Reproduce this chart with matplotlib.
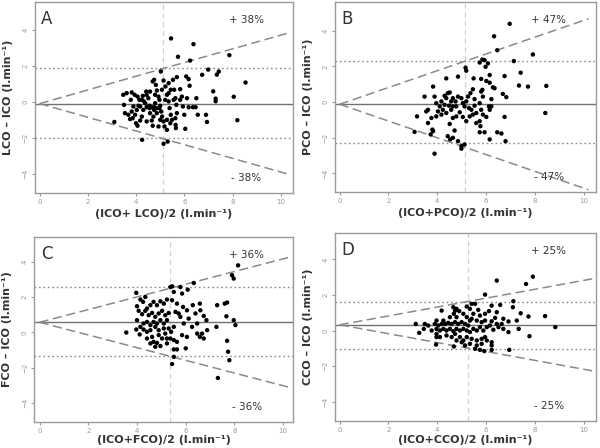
import numpy as np
import matplotlib
matplotlib.use("Agg")
import matplotlib.pyplot as plt

# Bland-Altman data: (mean, difference)
pts_a = [
    (5.45, 3.54), (6.38, 3.22), (5.74, 2.52), (6.24, 2.31), (7.87, 2.61), (5.03, 1.70),
    (6.99, 1.81), (7.43, 1.70), (7.35, 1.53), (6.74, 1.52), (8.54, 1.09), (7.20, 0.60),
    (7.30, 0.20), (7.30, 0.05), (8.05, 0.30), (8.20, -1.00), (6.90, -0.70), (6.94, -1.10),
    (6.04, -1.48), (4.25, -2.09), (5.14, -2.31), (5.31, -2.19), (3.10, -1.10),
    (3.47, 0.41), (3.61, 0.50), (3.82, 0.54), (3.50, -0.15), (3.54, -0.61), (3.68, -0.70),
    (3.75, -0.94), (3.86, -0.89), (3.96, -0.70), (4.00, -1.17), (4.06, -1.31), (3.94, 0.41),
    (4.06, 0.31), (4.14, 0.13), (4.17, -0.24), (4.24, -0.80), (4.30, -0.43), (4.38, -0.06),
    (4.44, 0.41), (4.51, 0.22), (4.56, -0.20), (4.58, -0.61), (4.65, -1.02), (4.69, -1.31),
    (4.75, -0.43), (4.79, -0.06), (4.69, 1.15), (4.75, 1.24), (4.82, 0.96), (4.86, 0.65),
    (4.93, 0.31), (4.97, 0.13), (5.00, -0.20), (5.04, -0.52), (5.08, -0.80), (5.14, -1.07),
    (5.18, -1.35), (5.22, 0.87), (5.28, 0.41), (5.35, 0.04), (5.39, -0.33), (5.44, -0.70),
    (5.49, -0.98), (5.53, 1.24), (5.58, 0.69), (5.63, 0.22), (5.67, -0.15), (5.69, -0.61),
    (5.64, -1.26), (5.65, -1.44), (5.83, 0.72), (5.90, 0.31), (5.94, -0.24), (6.00, -0.70),
    (6.08, 1.43), (6.18, 1.28), (6.22, 0.91), (6.11, 0.22), (6.18, -0.28), (6.36, -0.28),
    (6.47, -0.28), (6.50, 0.22), (6.56, -0.70), (4.44, -0.28), (4.56, -0.33), (4.65, -0.28),
    (4.75, -0.28), (4.86, -0.33), (4.97, -0.33), (4.24, 0.13), (4.33, 0.04), (4.42, 0.59),
    (4.28, 0.35), (4.10, -0.20), (3.89, -0.24), (3.78, 0.13), (4.17, -1.02), (4.44, -1.07),
    (4.86, -0.61), (5.00, -0.98), (5.28, -0.98), (5.42, -1.17), (5.63, -0.89), (5.35, 0.50),
    (5.44, 0.69), (5.14, 1.20), (5.35, 1.06), (5.69, 1.39), (5.56, 0.13), (5.83, 0.13),
    (4.58, 0.59), (4.79, 0.41), (5.07, 0.69), (5.21, 0.13), (4.03, -0.43), (3.82, -0.52),
    (4.72, -0.80), (4.93, -1.35), (5.28, -1.54),
]
pts_b = [
    (6.97, 4.39), (6.33, 3.69), (6.46, 2.91), (7.92, 2.67), (7.14, 2.30), (7.42, 1.65),
    (7.72, 0.87), (7.35, 0.93), (8.47, 0.91), (8.43, -0.61), (5.85, 2.39), (5.94, 2.35),
    (5.74, 2.22), (5.98, 1.98), (6.08, 2.17), (5.16, 1.93), (5.19, 1.76), (6.15, 1.52),
    (6.76, 1.46), (5.80, 1.30), (6.01, 1.19), (4.37, 1.33), (4.85, 1.43), (5.49, 1.33),
    (6.28, 0.83), (5.46, 0.72), (5.85, 0.69), (6.15, 1.09), (3.83, 0.87), (3.89, 0.31),
    (3.48, 0.31), (6.69, 0.46), (6.83, 0.28), (6.22, 0.17), (5.87, 0.31), (5.53, 0.17),
    (5.36, 0.50), (5.19, 0.04), (4.64, -0.24), (4.37, 0.22), (4.43, 0.50), (4.51, 0.54),
    (4.30, 0.35), (4.64, 0.22), (4.75, 0.04), (4.85, 0.31), (4.99, 0.22), (5.05, -0.06),
    (5.12, -0.24), (5.30, -0.33), (5.40, -0.43), (5.46, -0.70), (5.60, -0.61), (5.74, -0.06),
    (5.80, -0.43), (5.87, -0.70), (6.01, -0.83), (5.74, -1.07), (5.77, -1.35), (5.74, -1.69),
    (5.94, -1.69), (6.22, -0.24), (6.76, -0.83), (6.80, -2.19), (6.46, -1.69), (6.63, -1.76),
    (6.15, -2.09), (3.96, -0.06), (4.10, -0.24), (4.03, -0.52), (4.17, -0.70), (4.23, -0.43),
    (3.96, -0.80), (3.76, -0.89), (3.62, -0.43), (3.55, -0.52), (3.83, -1.63), (3.80, -1.54),
    (3.73, -1.81), (3.62, -1.17), (3.17, -0.80), (3.07, -1.67), (3.89, -2.89), (4.43, -1.91),
    (4.53, -2.09), (4.64, -2.00), (4.85, -2.19), (4.99, -2.46), (4.99, -2.61), (5.12, -2.37),
    (4.71, -1.59), (4.51, -1.22), (4.64, -0.89), (4.78, -0.80), (4.92, -0.57), (5.05, -0.83),
    (5.19, -1.07), (4.37, -0.61), (4.57, -0.43), (4.78, -0.24), (4.48, -0.20), (4.30, -0.15),
    (4.17, 0.04), (4.57, 0.04), (5.26, 0.31), (5.53, -0.20), (5.33, -0.80), (5.60, -1.17),
    (5.80, 0.59), (6.12, -0.24), (6.15, -0.43), (6.35, 0.78),
]
pts_c = [
    (8.15, 3.81), (7.90, 3.25), (7.97, 3.06), (6.33, 2.81), (5.78, 2.58), (5.37, 2.58),
    (5.44, 2.62), (6.08, 2.43), (3.97, 2.25), (5.85, 2.21), (4.34, 2.02), (7.70, 1.70),
    (7.60, 1.64), (7.29, 1.55), (6.58, 1.64), (6.29, 1.55), (6.60, 1.26), (6.40, 1.08),
    (6.74, 0.94), (7.67, 0.92), (6.85, 0.70), (7.97, 0.70), (8.04, 0.42), (7.26, 0.32),
    (6.88, 0.13), (6.67, -0.06), (7.70, -0.47), (7.74, -1.09), (7.79, -1.57), (7.32, -2.58),
    (5.44, -1.79), (5.51, -1.38), (5.64, -0.96), (5.51, -0.96), (6.00, -0.90), (5.23, -0.62),
    (5.37, -0.34), (5.64, -0.53), (5.85, -0.15), (6.05, -0.25), (6.26, 0.32), (6.47, 0.51),
    (5.92, 0.51), (5.78, 0.89), (5.58, 1.17), (5.64, 1.64), (5.44, 1.83), (5.23, 1.87),
    (5.10, 1.64), (4.96, 1.77), (4.82, 1.55), (4.68, 1.74), (4.55, 1.55), (4.41, 1.36),
    (4.14, 1.87), (4.25, 1.74), (4.00, 1.49), (4.07, 1.23), (4.21, 1.04), (4.34, 1.23),
    (4.48, 0.98), (4.62, 1.11), (4.75, 0.89), (4.89, 1.08), (5.03, 1.23), (5.16, 0.98),
    (5.30, 1.11), (5.23, 0.70), (5.10, 0.51), (4.96, 0.70), (4.82, 0.51), (4.68, 0.60),
    (4.55, 0.42), (4.41, 0.60), (4.27, 0.51), (4.14, 0.32), (4.00, 0.70), (3.97, 0.17),
    (3.56, 0.00), (4.11, -0.11), (4.27, 0.17), (4.41, 0.04), (4.55, 0.13), (4.62, -0.25),
    (4.68, -0.53), (4.82, -0.59), (4.75, -0.81), (4.96, -0.77), (5.03, -0.34), (5.16, -0.06),
    (5.30, 0.23), (5.40, 0.04), (5.51, 0.32), (4.89, 0.13), (5.10, 0.23), (4.75, 0.32),
    (4.89, -0.15), (5.23, -0.34), (5.51, -0.43), (4.41, -0.34), (4.55, -0.62), (5.71, 1.08),
    (5.89, 1.45), (6.05, 1.26), (6.12, 0.79), (6.47, -0.06), (6.58, -0.25), (6.74, -0.34),
    (5.51, 2.30),
]
pts_d = [
    (7.92, 3.03), (7.64, 2.62), (6.44, 2.81), (5.96, 2.02), (7.12, 1.65), (7.42, 0.97),
    (7.74, 0.79), (8.42, 0.81), (8.84, 0.19), (7.78, -0.32), (6.95, -1.09), (6.23, -1.09),
    (5.93, -1.16), (5.75, -1.09), (5.55, -1.03), (4.68, -0.90), (3.95, -0.79), (7.10, 1.31),
    (6.58, 1.44), (6.23, 1.40), (6.12, 1.09), (5.96, 0.94), (6.44, 1.03), (6.71, 0.66),
    (6.92, 0.51), (7.26, 0.56), (7.34, 0.09), (6.92, -0.09), (6.64, 0.37), (6.44, 0.37),
    (6.23, 0.52), (5.96, 0.56), (5.82, 0.47), (5.62, 0.56), (5.41, 0.66), (5.21, 0.75),
    (5.07, 0.94), (4.90, 1.09), (4.73, 1.12), (4.68, 0.94), (4.79, 0.75), (4.18, 1.12),
    (5.21, 1.35), (5.34, 1.22), (5.41, 1.50), (5.55, 1.50), (5.68, 1.16), (5.48, 0.94),
    (5.34, 0.56), (5.27, 0.28), (5.14, 0.37), (5.00, 0.47), (4.86, 0.37), (4.73, 0.47),
    (4.59, 0.37), (4.45, 0.43), (4.32, 0.37), (4.18, 0.37), (4.04, 0.28), (3.97, 0.56),
    (3.90, 0.37), (3.97, 0.09), (3.97, -0.19), (3.97, -0.37), (4.11, 0.00), (4.25, 0.09),
    (4.38, 0.00), (4.52, 0.09), (4.66, -0.04), (4.79, 0.09), (4.93, 0.00), (5.07, 0.09),
    (5.21, 0.00), (5.34, -0.09), (5.48, 0.09), (5.62, 0.00), (5.75, 0.19), (5.89, 0.00),
    (6.03, 0.19), (6.16, 0.28), (6.30, 0.04), (6.51, 0.19), (6.71, 0.09), (3.12, 0.37),
    (3.26, -0.13), (3.49, 0.37), (3.45, 0.09), (3.63, 0.28), (3.77, 0.00), (4.38, -0.28),
    (4.59, -0.37), (4.73, -0.19), (4.93, -0.37), (5.00, -0.66), (5.07, -0.56), (5.21, -0.37),
    (5.41, -0.47), (5.62, -0.56), (5.82, -0.47), (5.96, -0.37), (6.03, -0.56), (6.23, -0.66),
    (6.23, -0.84), (5.82, -0.75), (5.62, -0.84), (5.34, -0.75), (5.14, -0.84), (4.79, -0.56),
    (4.11, -0.37), (4.25, 0.56), (4.52, 0.75), (4.66, 1.31), (4.79, 1.22), (5.75, 0.84),
    (6.37, 0.71),
]

letters = ["A", "B", "C", "D"]
xlabels = ["(ICO+ LCO)/2 (l.min\u207b\u00b9)", "(ICO+PCO)/2 (l.min\u207b\u00b9)",
           "(ICO+FCO)/2 (l.min\u207b\u00b9)", "(ICO+CCO)/2 (l.min\u207b\u00b9)"]
ylabels = ["LCO \u2013 ICO (l.min\u207b\u00b9)", "PCO \u2013 ICO (l.min\u207b\u00b9)",
           "FCO \u2013 ICO (l.min\u207b\u00b9)", "CCO \u2013 ICO (l.min\u207b\u00b9)"]
bias = [-0.08, -0.12, 0.58, 0.32]
loa_up = [1.90, 2.30, 2.57, 1.60]
loa_lo = [-1.98, -2.28, -1.34, -1.03]
pct = [38, 47, 36, 25]
mean_x = [5.13, 5.15, 5.34, 5.27]
cone_end = [10.4, 10.2, 10.2, 10.4]
points = [pts_a, pts_b, pts_c, pts_d]

# axes rectangles in figure fractions
rects = [
    [0.058, 0.569, 0.430, 0.426],
    [0.558, 0.571, 0.435, 0.424],
    [0.057, 0.058, 0.432, 0.413],
    [0.558, 0.060, 0.435, 0.420],
]
ylims = [(-5.05, 5.55), (-5.05, 5.6), (-5.08, 5.42), (-5.1, 5.49)]
xlims = [(-0.2, 10.5), (-0.2, 10.5), (-0.22, 10.42), (-0.2, 10.5)]
xlab_y = [-0.084, -0.084, -0.072, -0.076]  # top of x label, axes coords

fig = plt.figure(figsize=(6, 4.48), dpi=100)
fig.patch.set_facecolor("white")

for i in range(4):
    ax = fig.add_axes(rects[i])
    p = np.array(points[i])
    ax.axvline(mean_x[i], color="#d0d0d0", lw=0.9, ls=(0, (4, 3)), zorder=1)
    ax.axhline(bias[i], color="#707070", lw=1.0, zorder=2)
    ax.axhline(loa_up[i], color="#8a8a8a", lw=1.0, ls=(0, (1.2, 2)), zorder=2)
    ax.axhline(loa_lo[i], color="#8a8a8a", lw=1.0, ls=(0, (1.2, 2)), zorder=2)
    xs = np.array([0.0, cone_end[i]])
    k = pct[i] / 100.0
    ax.plot(xs, bias[i] + k * xs, color="#8a8a8a", lw=1.1, ls=(0, (6, 3)), zorder=2)
    ax.plot(xs, bias[i] - k * xs, color="#8a8a8a", lw=1.1, ls=(0, (6, 3)), zorder=2)
    ax.scatter(p[:, 0], p[:, 1], s=10, color="black", edgecolors="none", zorder=3)

    ax.set_xlim(*xlims[i])
    ax.set_ylim(*ylims[i])
    ax.set_xticks([0, 2, 4, 6, 8, 10])
    ax.set_yticks([-4, -2, 0, 2, 4])
    ax.tick_params(labelsize=5, colors="#9a9a9a", length=2.5, width=0.8, pad=2)
    for lab in ax.get_yticklabels():
        lab.set_rotation(90)
        lab.set_va("center")
    for s in ax.spines.values():
        s.set_color("#9a9a9a")
        s.set_linewidth(1.0)

    ax.set_xlabel(xlabels[i], fontsize=8, fontweight="bold", color="#333333")
    ax.xaxis.set_label_coords(0.5, xlab_y[i])
    ax.set_ylabel(ylabels[i], fontsize=8, fontweight="bold", color="#333333")
    ax.yaxis.set_label_coords(-0.085, 0.5)

    ax.text(0.025, 0.91, letters[i], transform=ax.transAxes, fontsize=12,
            color="#333333", ha="left", va="center")
    ax.text(0.82, 0.905, "+ %d%%" % pct[i], transform=ax.transAxes, fontsize=7.5,
            color="#333333", ha="center", va="center")
    ax.text(0.82, 0.08, "- %d%%" % pct[i], transform=ax.transAxes, fontsize=7.5,
            color="#333333", ha="center", va="center")

fig.savefig("out.png", dpi=100)
